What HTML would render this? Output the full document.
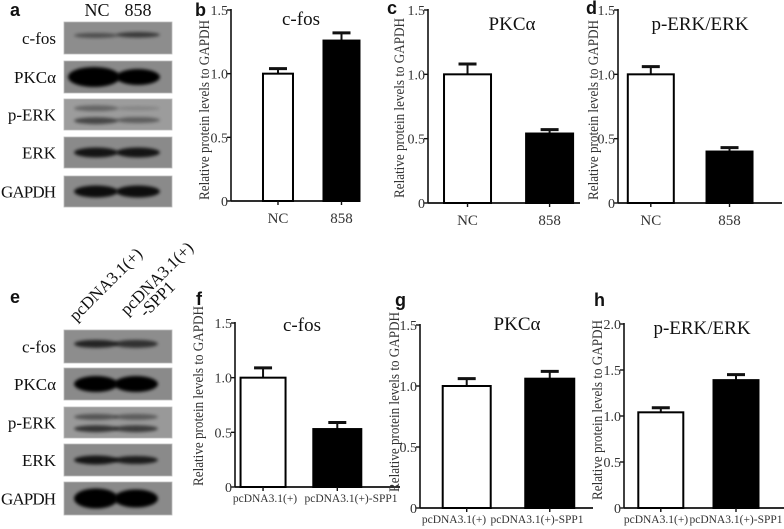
<!DOCTYPE html>
<html><head><meta charset="utf-8"><style>
html,body{margin:0;padding:0;background:#fff;}
svg{display:block;}
svg text{font-family:"Liberation Serif",serif;}
svg text.pl{font-family:"Liberation Sans",sans-serif;font-weight:bold;font-size:18px;}
</style></head><body>
<svg id="fig" width="784" height="529" viewBox="0 0 784 529" xmlns="http://www.w3.org/2000/svg">
<defs>
<filter id="blur" x="-20%" y="-50%" width="140%" height="200%"><feGaussianBlur stdDeviation="1.6"/></filter>
</defs>
<g id="blots"></g>
<g id="charts"></g>
</svg>
<script>
// ---- chart data ----
const categoriesTop = ["NC", "858"];
const categoriesBottom = ["pcDNA3.1(+)", "pcDNA3.1(+)-SPP1"];
const cfosTopValues = [1.0, 1.26];
const cfosTopErrors = [0.04, 0.06];
const pkcTopValues = [1.0, 0.54];
const pkcTopErrors = [0.08, 0.03];
const perkTopValues = [1.0, 0.40];
const perkTopErrors = [0.06, 0.03];
const cfosBottomValues = [1.0, 0.53];
const cfosBottomErrors = [0.09, 0.06];
const pkcBottomValues = [1.0, 1.06];
const pkcBottomErrors = [0.06, 0.06];
const perkBottomValues = [1.04, 1.39];
const perkBottomErrors = [0.05, 0.06];
const ticks15 = [0, 0.5, 1.0, 1.5];
const tickLabels15 = ["0", "0.5", "1.0", "1.5"];
const ticks20 = [0, 0.5, 1.0, 1.5, 2.0];
const tickLabels20 = ["0", "0.5", "1.0", "1.5", "2.0"];

const NS = "http://www.w3.org/2000/svg";
const SERIF = '"Liberation Serif", serif';
function mk(parent, tag, attrs, text) {
  const e = document.createElementNS(NS, tag);
  for (const k in attrs) e.setAttribute(k, attrs[k]);
  if (tag === "text") e.setAttribute("font-family", SERIF);
  if (text !== undefined) e.textContent = text;
  parent.appendChild(e);
  return e;
}
const charts = document.getElementById("charts");

function drawChart(cfg, cats, vals, errs, ticks, tickLabels, name) {
  const g = mk(charts, "g", {});
  
  
  const yScale = v => cfg.y0 - (v / cfg.yMax) * (cfg.y0 - cfg.yTop);
  const ya = mk(g, "line", {x1: cfg.ax, y1: cfg.yTop - 1, x2: cfg.ax, y2: cfg.y0, stroke: "#111", "stroke-width": 1.6});
  
  
  const xa = mk(g, "line", {x1: cfg.ax, y1: cfg.y0, x2: cfg.xEnd, y2: cfg.y0, stroke: "#111", "stroke-width": 1.8});
  
  
  ticks.forEach((t, i) => {
    const y = yScale(t);
    mk(g, "line", {x1: cfg.ax - 4, y1: y, x2: cfg.ax, y2: y, stroke: "#111", "stroke-width": 1.4});
    const tl = mk(g, "text", {x: cfg.ax - 3, y: y + 5, "text-anchor": "end", "font-size": 14, fill: "#333"}, tickLabels[i]);
    
    
  });
  const cy = cfg.tcy;
  const bx = cfg.ax - cfg.ytOff;
  const yt = mk(g, "text", {x: bx, y: cy, "text-anchor": "middle", "font-size": 15, textLength: 180, lengthAdjust: "spacingAndGlyphs", fill: "#333", transform: `rotate(-90 ${bx} ${cy})`}, "Relative protein levels to GAPDH");
  
  
  const tt = mk(g, "text", {x: cfg.tx, y: cfg.ty, "text-anchor": "middle", "font-size": 19, fill: "#111"}, cfg.title);
  
  
  cats.forEach((c, i) => {
    const cx = cfg.ax + cfg.fr[i] * (cfg.xEnd - cfg.ax);
    const w = cfg.bw[i];
    const top = yScale(vals[i]);
    const et = yScale(vals[i] + errs[i]);
    const eline = mk(g, "line", {x1: cx, y1: top, x2: cx, y2: et, stroke: "#111", "stroke-width": 2});
    
    
    const cap = mk(g, "line", {x1: cx - 9, y1: et, x2: cx + 9, y2: et, stroke: "#111", "stroke-width": 3});
    
    
    const r = mk(g, "rect", {x: cx - w / 2, y: top, width: w, height: cfg.y0 - top, fill: i === 0 ? "#fff" : "#000", stroke: "#000", "stroke-width": 2});
    
    
    mk(g, "line", {x1: cx, y1: cfg.y0, x2: cx, y2: cfg.y0 + 4, stroke: "#111", "stroke-width": 1.4});
    const lx = cfg.lx ? cfg.lx[i] : cx;
    const xl = mk(g, "text", {x: lx, y: cfg.y0 + cfg.xlOff, "text-anchor": "middle", "font-size": cfg.xfs, fill: "#333"}, c);
    
    
  });
}

drawChart({ax:231,y0:201,yTop:10,yMax:1.5,xEnd:358,fr:[0.37,0.87],bw:[30,36],tx:301,ty:25,title:"c-fos",ytOff:22,tcy:110,xlOff:22,xfs:15}, categoriesTop, cfosTopValues, cfosTopErrors, ticks15, tickLabels15, "chart-b-cfos");
drawChart({ax:428,y0:203,yTop:10,yMax:1.5,xEnd:580,fr:[0.26,0.80],bw:[47,47],tx:512,ty:30,title:"PKCα",ytOff:24,tcy:108,xlOff:22,xfs:15}, categoriesTop, pkcTopValues, pkcTopErrors, ticks15, tickLabels15, "chart-c-pkc");
drawChart({ax:618,y0:203,yTop:10,yMax:1.5,xEnd:782,fr:[0.20,0.68],bw:[46,46],tx:700,ty:30,title:"p-ERK/ERK",ytOff:20,tcy:110,xlOff:22,xfs:15}, categoriesTop, perkTopValues, perkTopErrors, ticks15, tickLabels15, "chart-d-perk");
drawChart({ax:235,y0:487,yTop:323,yMax:1.5,xEnd:400,fr:[0.17,0.62],bw:[45,48],tx:302,ty:331,title:"c-fos",ytOff:32,tcy:396,xlOff:15,xfs:11.5,lx:[265,351]}, categoriesBottom, cfosBottomValues, cfosBottomErrors, ticks15, tickLabels15, "chart-f-cfos");
drawChart({ax:420,y0:508,yTop:325,yMax:1.5,xEnd:593,fr:[0.27,0.75],bw:[48,49],tx:517,ty:330,title:"PKCα",ytOff:21,tcy:402,xlOff:15,xfs:11.5,lx:[454,537]}, categoriesBottom, pkcBottomValues, pkcBottomErrors, ticks15, tickLabels15, "chart-g-pkc");
drawChart({ax:624,y0:508,yTop:324,yMax:2.0,xEnd:784,fr:[0.23,0.70],bw:[45,45],tx:702,ty:334,title:"p-ERK/ERK",ytOff:22,tcy:410,xlOff:15,xfs:11.5,lx:[656,736]}, categoriesBottom, perkBottomValues, perkBottomErrors, ticks20, tickLabels20, "chart-h-perk");

// ---- blots ----
const blots = document.getElementById("blots");
function blot(rows, lanes, prefix) {
  rows.forEach(r => {
    const g = mk(blots, "g", {});
    
    
    mk(g, "rect", {x: 64, y: r.y0, width: 108, height: r.y1 - r.y0, fill: r.bg, stroke: "#bbb", "stroke-width": 0.8});
    r.bands.forEach(b => {
      mk(g, "ellipse", {cx: lanes[b[0]] + (b[4] || 0), cy: r.y0 + b[1] * (r.y1 - r.y0), rx: b[5] || 22, ry: b[2], fill: "#000", opacity: b[3], filter: "url(#blur)"});
    });
    const t = mk(g, "text", {x: 56, y: (r.y0 + r.y1) / 2 + 6, "text-anchor": "end", "font-size": 17, fill: "#111"}, r.label);
    if (r.label === "GAPDH") t.setAttribute("textLength", 55);
    
    
  });
}
blot([
  {label: "c-fos", y0: 22, y1: 54, bg: "#8d8d8d", bands: [[0, 0.42, 2.5, 0.45], [1, 0.4, 2.8, 0.6]]},
  {label: "PKCα", y0: 61, y1: 93, bg: "#8a8a8a", bands: [[0, 0.5, 10, 1, -2, 26], [1, 0.5, 8, 1, 0, 22]]},
  {label: "p-ERK", y0: 99, y1: 130, bg: "#9c9c9c", bands: [[0, 0.3, 3, 0.35], [0, 0.7, 3.5, 0.55], [1, 0.3, 2, 0.15], [1, 0.68, 3, 0.4]]},
  {label: "ERK", y0: 137, y1: 168, bg: "#8a8a8a", bands: [[0, 0.5, 5, 0.85], [1, 0.5, 5, 0.85]]},
  {label: "GAPDH", y0: 176, y1: 207, bg: "#8a8a8a", bands: [[0, 0.5, 6, 0.9], [1, 0.5, 6, 0.9]]}
], [96, 138], "a");
blot([
  {label: "c-fos", y0: 330, y1: 363, bg: "#8d8d8d", bands: [[0, 0.42, 4, 0.75], [1, 0.42, 4, 0.65]]},
  {label: "PKCα", y0: 368, y1: 400, bg: "#8a8a8a", bands: [[0, 0.5, 8, 1], [1, 0.5, 8, 1]]},
  {label: "p-ERK", y0: 407, y1: 438, bg: "#999", bands: [[0, 0.32, 3, 0.45], [0, 0.7, 3.5, 0.65], [1, 0.32, 3, 0.4], [1, 0.7, 3.5, 0.6]]},
  {label: "ERK", y0: 444, y1: 476, bg: "#8a8a8a", bands: [[0, 0.5, 4.5, 0.85], [1, 0.5, 4, 0.8]]},
  {label: "GAPDH", y0: 482, y1: 515, bg: "#8a8a8a", bands: [[0, 0.5, 10, 1], [1, 0.5, 9, 1]]}
], [96, 136], "e");

function txt(parent, attrs, s, name, cls) {
  const t = mk(parent, "text", attrs, s);
  if (cls) { t.setAttribute("class", cls); t.setAttribute("font-family", '"Liberation Sans", sans-serif'); t.setAttribute("font-weight", "bold"); t.setAttribute("font-size", "18"); }
  
  
  return t;
}
txt(blots, {x: 97, y: 16, "text-anchor": "middle", "font-size": 18, fill: "#111"}, "NC", "lane-label-nc");
txt(blots, {x: 138, y: 16, "text-anchor": "middle", "font-size": 18, fill: "#111"}, "858", "lane-label-858");
txt(blots, {x: 76, y: 322, "font-size": 17, fill: "#111", transform: "rotate(-45 76 322)"}, "pcDNA3.1(+)", "lane-label-pcdna");
txt(blots, {x: 127, y: 316, "font-size": 17, fill: "#111", transform: "rotate(-45 127 316)"}, "pcDNA3.1(+)", "lane-label-spp1");
txt(blots, {x: 146, y: 318, "font-size": 17, fill: "#111", transform: "rotate(-45 146 318)"}, "-SPP1", "lane-label-spp1-suffix");

const letters = [["a", 10, 16], ["b", 195, 16], ["c", 387, 14], ["d", 586, 14], ["e", 10, 303], ["f", 196, 305], ["g", 395, 306], ["h", 594, 306]];
letters.forEach(l => txt(blots, {x: l[1], y: l[2], fill: "#111"}, l[0], "panel-label-" + l[0], "pl"));
</script>
</body></html>
